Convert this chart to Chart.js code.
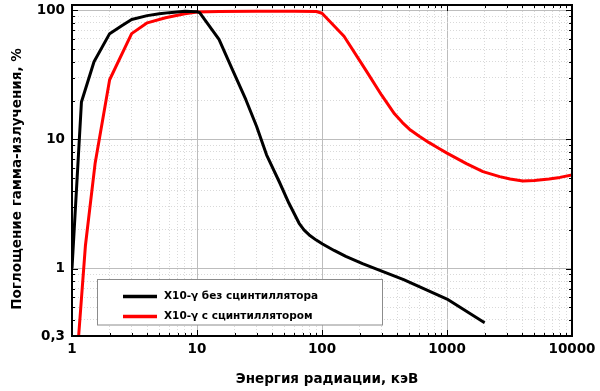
<!DOCTYPE html>
<html>
<head>
<meta charset="utf-8">
<script src="https://cdn.jsdelivr.net/npm/chart.js@4.4.1/dist/chart.umd.min.js"></script>
<style>
  html, body { margin: 0; padding: 0; background: #ffffff; }
  #wrap { width: 600px; height: 391px; }
</style>
</head>
<body>
<div id="wrap"><canvas id="c" width="600" height="391"></canvas></div>
<script>
// ---- data ----
const seriesNames = ['X10-γ без сцинтиллятора', 'X10-γ с сцинтиллятором'];
const xTitle = 'Энергия радиации, кэВ';
const yTitle = 'Поглощение гамма-излучения, %';

const energyNoScint = [1, 1.19, 1.5, 2, 2.5, 3, 4, 5, 6, 8, 10, 10.5, 15, 19.2, 24.6, 30, 36, 45.5, 54.4, 65.6, 72, 79, 90, 101, 125, 155, 211, 280, 450, 1000, 2000];
const absorbNoScint = [1, 19.5, 40, 66, 76, 85, 91, 94, 96, 98.5, 97.5, 96, 59.5, 34.7, 20.3, 12.6, 7.6, 4.7, 3.2, 2.24, 1.98, 1.82, 1.66, 1.55, 1.38, 1.24, 1.09, 0.98, 0.82, 0.58, 0.38];

const energyScint = [1.13, 1.28, 1.53, 2, 3, 4, 5.6, 8, 10, 15, 30, 60, 90, 100, 150, 226, 300, 380, 440, 500, 600, 720, 850, 1000, 1430, 1940, 2640, 3200, 4040, 5000, 6550, 8000, 10000];
const absorbScint = [0.3, 1.5, 6.5, 29, 66, 80, 87.6, 94, 97, 98, 98.3, 98.3, 98, 95, 63, 34, 22, 15.8, 13.5, 12.0, 10.6, 9.44, 8.57, 7.83, 6.5, 5.63, 5.15, 4.94, 4.77, 4.8, 4.94, 5.08, 5.3];

const xMajorValues = [1, 10, 100, 1000, 10000];
const xMajorLabels = ['1', '10', '100', '1000', '10000'];
const yMajorValues = [0.3, 1, 10, 100];
const yMajorLabels = ['0,3', '1', '10', '100'];

const xRange = [1, 10000];
const yRange = [0.3, 110];

// tick positions of a log axis (1..9 of each decade)
function logTicks(lo, hi) {
  const out = [];
  for (let e = Math.floor(Math.log10(lo)); e <= Math.ceil(Math.log10(hi)); e++) {
    for (let m = 1; m <= 9; m++) {
      const v = +(m * Math.pow(10, e)).toPrecision(6);
      if (v >= lo - 1e-9 && v <= hi + 1e-9) out.push(v);
    }
  }
  return out;
}
const xTickValues = logTicks(xRange[0], xRange[1]);
const yTickValues = logTicks(yRange[0], 100);

const isPow10 = v => Math.abs(Math.log10(v) - Math.round(Math.log10(v))) < 1e-9;
const labelFor = (v, vals, labs) => { const i = vals.findIndex(t => Math.abs(t - v) / t < 1e-9); return i >= 0 ? labs[i] : ''; };

const tickFont = { family: 'DejaVu Sans', size: 13.5, weight: 'bold' };

// ---- plugin: legend box, inward ticks, frame, axis titles ----
const framePlugin = {
  id: 'frame',
  afterDatasetsDraw(chart) {
    const { ctx, chartArea: { left, right, top, bottom }, scales: { x, y } } = chart;
    ctx.save();
    // legend box
    const bx = 97.5, by = 279.5, bw = 285, bh = 45.5;
    ctx.fillStyle = '#ffffff';
    ctx.fillRect(bx, by, bw, bh);
    ctx.strokeStyle = '#8c8c8c';
    ctx.lineWidth = 1;
    ctx.strokeRect(bx, by, bw, bh);
    chart.data.datasets.forEach((ds, i) => {
      const ly = 296.5 + i * 20;
      ctx.strokeStyle = ds.borderColor;
      ctx.lineWidth = 3.5;
      ctx.beginPath(); ctx.moveTo(123, ly); ctx.lineTo(157, ly); ctx.stroke();
      ctx.fillStyle = '#000';
      ctx.font = 'bold 10.5px "DejaVu Sans"';
      ctx.textAlign = 'left';
      ctx.textBaseline = 'middle';
      ctx.fillText(ds.label, 164, ly);
    });
    // inward ticks
    ctx.strokeStyle = '#000';
    ctx.lineWidth = 1;
    ctx.beginPath();
    xTickValues.forEach(v => {
      const px = Math.round(x.getPixelForValue(v)) + 0.5;
      const len = isPow10(v) ? 6 : 3;
      ctx.moveTo(px, bottom); ctx.lineTo(px, bottom - len);
      ctx.moveTo(px, top); ctx.lineTo(px, top + len);
    });
    yTickValues.forEach(v => {
      const py = Math.round(y.getPixelForValue(v)) + 0.5;
      const len = isPow10(v) ? 6 : 3;
      ctx.moveTo(left, py); ctx.lineTo(left + len, py);
      ctx.moveTo(right, py); ctx.lineTo(right - len, py);
    });
    ctx.stroke();
    // frame
    ctx.lineWidth = 2;
    ctx.strokeRect(left, top, right - left, bottom - top);
    // axis titles
    ctx.fillStyle = '#000';
    ctx.font = 'bold 13.5px "DejaVu Sans"';
    ctx.textAlign = 'center';
    ctx.textBaseline = 'alphabetic';
    ctx.fillText(xTitle, 327, 383);
    ctx.translate(20.5, 179);
    ctx.rotate(-Math.PI / 2);
    ctx.fillText(yTitle, 0, 0);
    ctx.restore();
  }
};

new Chart(document.getElementById('c'), {
  type: 'line',
  data: {
    datasets: [
      {
        label: seriesNames[0],
        data: energyNoScint.map((e, i) => ({ x: e, y: absorbNoScint[i] })),
        borderColor: '#000000',
        borderWidth: 3,
        pointRadius: 0,
        tension: 0,
        borderJoinStyle: 'round'
      },
      {
        label: seriesNames[1],
        data: energyScint.map((e, i) => ({ x: e, y: absorbScint[i] })),
        borderColor: '#ff0000',
        borderWidth: 3,
        pointRadius: 0,
        tension: 0,
        borderJoinStyle: 'round'
      }
    ]
  },
  options: {
    responsive: false,
    animation: false,
    devicePixelRatio: 1,
    layout: { padding: { top: 5, right: 28, left: 0, bottom: 0 } },
    plugins: { legend: { display: false }, tooltip: { enabled: false } },
    scales: {
      x: {
        type: 'logarithmic',
        min: xRange[0], max: xRange[1],
        afterBuildTicks: s => { s.ticks = xTickValues.map(v => ({ value: v })); },
        afterFit: s => { s.height = 55; s.paddingLeft = 0; s.paddingRight = 0; },
        ticks: {
          autoSkip: false, maxRotation: 0, padding: 5, color: '#000', font: tickFont,
          callback: v => labelFor(v, xMajorValues, xMajorLabels)
        },
        grid: {
          drawTicks: false,
          color: c => (c.tick && isPow10(c.tick.value)) ? '#bdbdbd' : '#d9d9d9',
          lineWidth: 1
        },
        border: { display: false, dash: c => (c.tick && isPow10(c.tick.value)) ? [] : [1, 2] }
      },
      y: {
        type: 'logarithmic',
        min: yRange[0], max: yRange[1],
        afterBuildTicks: s => { s.ticks = yTickValues.map(v => ({ value: v })); },
        afterFit: s => { s.width = 72; s.paddingTop = 0; s.paddingBottom = 0; },
        ticks: {
          autoSkip: false, padding: 7, color: '#000', font: tickFont,
          callback: v => labelFor(v, yMajorValues, yMajorLabels)
        },
        grid: {
          drawTicks: false,
          color: c => (c.tick && isPow10(c.tick.value)) ? '#bdbdbd' : '#d9d9d9',
          lineWidth: 1
        },
        border: { display: false, dash: c => (c.tick && isPow10(c.tick.value)) ? [] : [1, 2] }
      }
    }
  },
  plugins: [framePlugin]
});
</script>
</body>
</html>
